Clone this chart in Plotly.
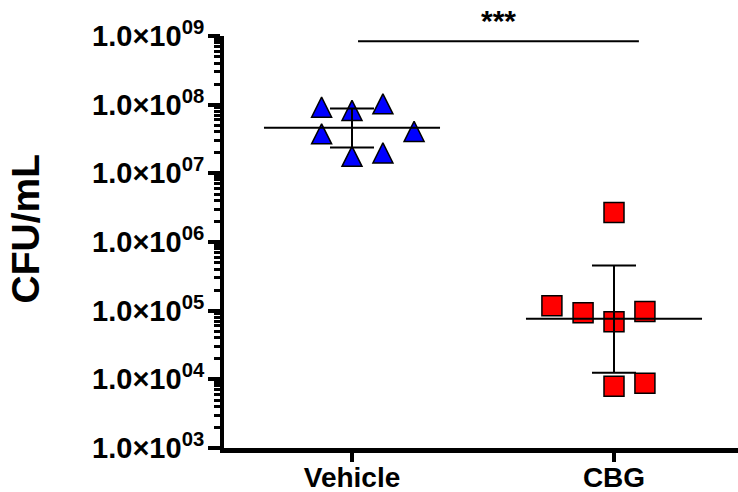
import plotly.graph_objects as go
import math

# ---- data ----
categories = ["Vehicle", "CBG"]
vehicle_cfu = [9.2e7, 8.25e7, 1.03e8, 3.76e7, 4.08e7, 1.77e7, 1.98e7]
cbg_cfu = [2.7e6, 1.18e5, 9.35e4, 6.9e4, 9.7e4, 7.9e3, 8.8e3]
group_center = [4.6e7, 7.6e4]
group_upper = [8.8e7, 4.55e5]
group_lower = [2.37e7, 1.25e4]
ytick_vals = [1e3, 1e4, 1e5, 1e6, 1e7, 1e8, 1e9]
ytick_text = ["1.0×10<sup>%02d</sup>" % int(round(math.log10(v))) for v in ytick_vals]
significance = "***"
sig_level = 8.4e8

# minor ticks: digits 2..9 within each decade
minor_vals = [d * v for v in ytick_vals[:-1] for d in range(2, 10)]

# ---- style / layout helpers ----
jitter_vehicle = [-0.116, 0.0, 0.118, -0.116, 0.237, 0.0, 0.118]
jitter_cbg = [0.0, -0.237, -0.118, 0.0, 0.118, 0.0, 0.118]
mean_half = 0.336
cap_half = 0.084
FONT = "Liberation Sans, Arial, sans-serif"
TRI = 20

fig = go.Figure()

# upward triangle centred on the point (arrow-down rotated 180deg, shifted by half its height)
fig.add_trace(go.Scatter(
    x=[0 + j for j in jitter_vehicle], y=vehicle_cfu, mode="markers",
    marker=dict(symbol="arrow-down", angle=180, standoff=TRI / 2, size=TRI,
                color="#0000FF", line=dict(color="black", width=1.5)),
    showlegend=False, cliponaxis=False))
fig.add_trace(go.Scatter(
    x=[1 + j for j in jitter_cbg], y=cbg_cfu, mode="markers",
    marker=dict(symbol="square", size=20, color="#FF0000",
                line=dict(color="black", width=1.5)),
    showlegend=False, cliponaxis=False))

for i in range(len(categories)):
    c = i
    xs = [c - mean_half, c + mean_half, None,
          c, c, None,
          c - cap_half, c + cap_half, None,
          c - cap_half, c + cap_half]
    ys = [group_center[i], group_center[i], None,
          group_lower[i], group_upper[i], None,
          group_upper[i], group_upper[i], None,
          group_lower[i], group_lower[i]]
    fig.add_trace(go.Scatter(x=xs, y=ys, mode="lines",
                             line=dict(color="black", width=2),
                             showlegend=False, cliponaxis=False))

# significance bar
fig.add_trace(go.Scatter(x=[0.023, 1.095], y=[sig_level, sig_level], mode="lines",
                         line=dict(color="black", width=2),
                         showlegend=False, cliponaxis=False))

L, B, T = 224, 44, 36
W, H = 738, 492
pw, ph = W - L, H - B - T
x0 = (L - 352) / 262
x1 = (W - 352) / 262

fig.add_annotation(text="<b>%s</b>" % significance, xref="x", yref="paper",
                   x=0.56, y=(H - B - 20) / ph, showarrow=False,
                   font=dict(family=FONT, size=30, color="black"),
                   xanchor="center", yanchor="middle")

fig.add_annotation(text="<b>CFU/mL</b>", xref="paper", yref="paper",
                   x=-(L - 24.5) / pw, y=(H - B - 229) / ph, textangle=-90,
                   showarrow=False, xanchor="center", yanchor="middle",
                   font=dict(family=FONT, size=39, color="black"))

fig.update_layout(
    width=W, height=H,
    margin=dict(l=L, r=0, t=T, b=B, pad=0),
    plot_bgcolor="white", paper_bgcolor="white",
    font=dict(family=FONT, color="black"),
    xaxis=dict(range=[x0, x1], tickvals=[0, 1], ticktext=categories,
               showgrid=False, zeroline=False, showline=True, linewidth=5,
               linecolor="black", ticks="outside", ticklen=9, tickwidth=4,
               tickcolor="black", tickfont=dict(family=FONT, size=28, weight="bold"),
               ticklabelstandoff=-9, automargin=False),
    yaxis=dict(type="log", range=[3, 9], tickvals=ytick_vals, ticktext=ytick_text,
               showgrid=False, zeroline=False, showline=True, linewidth=4,
               linecolor="black", ticks="outside", ticklen=12, tickwidth=4,
               tickcolor="black", tickfont=dict(family=FONT, size=29, weight="bold"),
               ticklabelstandoff=-2,
               minor=dict(ticks="outside", ticklen=6, tickwidth=2.5, tickcolor="black",
                          tickvals=minor_vals, showgrid=False),
               automargin=False),
)

fig.write_html("out.html", config={"displayModeBar": False},
               post_script="document.body.style.margin='0';document.body.style.overflow='hidden';")
